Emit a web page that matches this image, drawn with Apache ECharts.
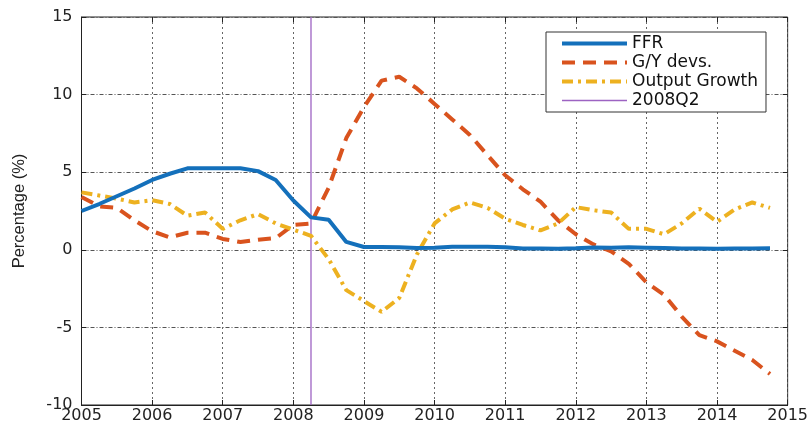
<!DOCTYPE html>
<html>
<head>
<meta charset="utf-8">
<script src="https://cdn.jsdelivr.net/npm/echarts@6/dist/echarts.min.js"></script>
<style>html,body{margin:0;padding:0;background:#fff}#c{width:811px;height:427px}</style>
</head>
<body>
<div id="c"></div>
<script>
// Quarterly dates (2005Q1 .. 2014Q4)
const quarters = [
  2005.00, 2005.25, 2005.50, 2005.75, 2006.00, 2006.25, 2006.50, 2006.75,
  2007.00, 2007.25, 2007.50, 2007.75, 2008.00, 2008.25, 2008.50, 2008.75,
  2009.00, 2009.25, 2009.50, 2009.75, 2010.00, 2010.25, 2010.50, 2010.75,
  2011.00, 2011.25, 2011.50, 2011.75, 2012.00, 2012.25, 2012.50, 2012.75,
  2013.00, 2013.25, 2013.50, 2013.75, 2014.00, 2014.25, 2014.50, 2014.75
];
const ffr = [
  2.5, 2.95, 3.45, 3.95, 4.5, 4.9, 5.25, 5.25,
  5.26, 5.25, 5.07, 4.5, 3.18, 2.09, 1.94, 0.51,
  0.18, 0.18, 0.16, 0.12, 0.13, 0.19, 0.19, 0.19,
  0.16, 0.09, 0.08, 0.07, 0.1, 0.15, 0.14, 0.16,
  0.14, 0.12, 0.08, 0.09, 0.07, 0.09, 0.09, 0.1
];
const gyDevs = [
  3.4, 2.8, 2.7, 1.9, 1.2, 0.8, 1.1, 1.1,
  0.7, 0.5, 0.65, 0.75, 1.6, 1.7, 4.0, 7.2,
  9.2, 10.9, 11.15, 10.4, 9.4, 8.4, 7.4, 6.1,
  4.8, 3.9, 3.1, 1.9, 1.0, 0.35, -0.1, -0.9,
  -2.1, -2.9, -4.3, -5.5, -5.9, -6.5, -7.1, -8.0
];
const outputGrowth = [
  3.7, 3.5, 3.3, 3.05, 3.2, 2.95, 2.2, 2.4,
  1.35, 1.9, 2.3, 1.7, 1.3, 0.9, -0.6, -2.6,
  -3.3, -4.0, -3.1, -0.3, 1.7, 2.6, 3.05, 2.7,
  2.0, 1.6, 1.25, 1.7, 2.75, 2.55, 2.4, 1.35,
  1.35, 1.0, 1.7, 2.65, 1.8, 2.6, 3.05, 2.7
];
const markerQuarter = 2008.25;
const seriesNames = ['FFR', 'G/Y devs.', 'Output Growth', '2008Q2'];
const xTicks = [2005, 2015, 1];
const yTicks = [-10, 15, 5];

const pair = (xs, ys) => xs.map((x, i) => [x, ys[i]]);

const colors = ['#1470bb', '#d9531e', '#edb120', '#9d63c2'];
const dashes = ['solid', [13, 8], [11, 5, 3, 5], 'solid'];
const widths = [4, 4, 4, 1.3];

const chart = echarts.init(document.getElementById('c'));
const tickFont = { fontFamily: 'DejaVu Sans', fontSize: 16, color: '#222' };
chart.setOption({
  animation: false,
  grid: { left: 81.5, right: 23, top: 17, bottom: 22, show: true, borderColor: '#222', borderWidth: 1, backgroundColor: 'transparent' },
  legend: {
    orient: 'vertical', left: 546, top: 32,
    backgroundColor: '#fff', borderColor: '#333', borderWidth: 1,
    padding: [3, 8, 3, 14], itemGap: 2, itemWidth: 65, itemHeight: 14,
    itemStyle: { opacity: 0 },
    textStyle: { fontFamily: 'DejaVu Sans', fontSize: 17, lineHeight: 14, color: '#111' },
    data: seriesNames.map((n, i) => ({ name: n, lineStyle: { width: i === 3 ? 1.6 : widths[i], color: colors[i], type: dashes[i], opacity: 1 } }))
  },
  xAxis: [{
    type: 'value', min: xTicks[0], max: xTicks[1], interval: xTicks[2],
    axisLine: { show: true, onZero: false, lineStyle: { color: '#222' } },
    axisTick: { show: true, inside: true, length: 5, lineStyle: { color: '#222' } },
    axisLabel: Object.assign({ margin: 3, formatter: v => String(v) }, tickFont),
    splitLine: { show: true, lineStyle: { color: '#666', type: [2, 3], width: 1 } }
  }, {
    type: 'value', position: 'top', min: xTicks[0], max: xTicks[1], interval: xTicks[2],
    axisLine: { show: false, onZero: false }, axisLabel: { show: false }, splitLine: { show: false },
    axisTick: { show: true, inside: true, length: 5, lineStyle: { color: '#222' } }
  }],
  yAxis: [{
    type: 'value', min: yTicks[0], max: yTicks[1], interval: yTicks[2],
    name: 'Percentage (%)', nameLocation: 'middle', nameGap: 54,
    nameTextStyle: { fontFamily: 'Liberation Sans', fontSize: 16.5, color: '#222' },
    axisLine: { show: true, onZero: false, lineStyle: { color: '#222' } },
    axisTick: { show: true, inside: true, length: 5, lineStyle: { color: '#222' } },
    axisLabel: Object.assign({ margin: 9 }, tickFont),
    splitLine: { show: true, lineStyle: { color: '#555', type: [4, 2, 1, 2], width: 1 } }
  }, {
    type: 'value', position: 'right', min: yTicks[0], max: yTicks[1], interval: yTicks[2],
    axisLine: { show: false, onZero: false }, axisLabel: { show: false }, splitLine: { show: false },
    axisTick: { show: true, inside: true, length: 5, lineStyle: { color: '#222' } }
  }],
  series: [
    { name: seriesNames[0], type: 'line', data: pair(quarters, ffr), symbol: 'none', z: 4,
      lineStyle: { color: colors[0], width: widths[0], type: dashes[0] }, itemStyle: { color: colors[0] } },
    { name: seriesNames[1], type: 'line', data: pair(quarters, gyDevs), symbol: 'none', z: 3,
      lineStyle: { color: colors[1], width: widths[1], type: dashes[1] }, itemStyle: { color: colors[1] } },
    { name: seriesNames[2], type: 'line', data: pair(quarters, outputGrowth), symbol: 'none', z: 3,
      lineStyle: { color: colors[2], width: widths[2], type: dashes[2] }, itemStyle: { color: colors[2] } },
    { name: seriesNames[3], type: 'line', data: [[markerQuarter, yTicks[0]], [markerQuarter, yTicks[1]]], symbol: 'none', z: 2,
      lineStyle: { color: colors[3], width: widths[3], type: dashes[3] }, itemStyle: { color: colors[3] } }
  ]
});
</script>
</body>
</html>
